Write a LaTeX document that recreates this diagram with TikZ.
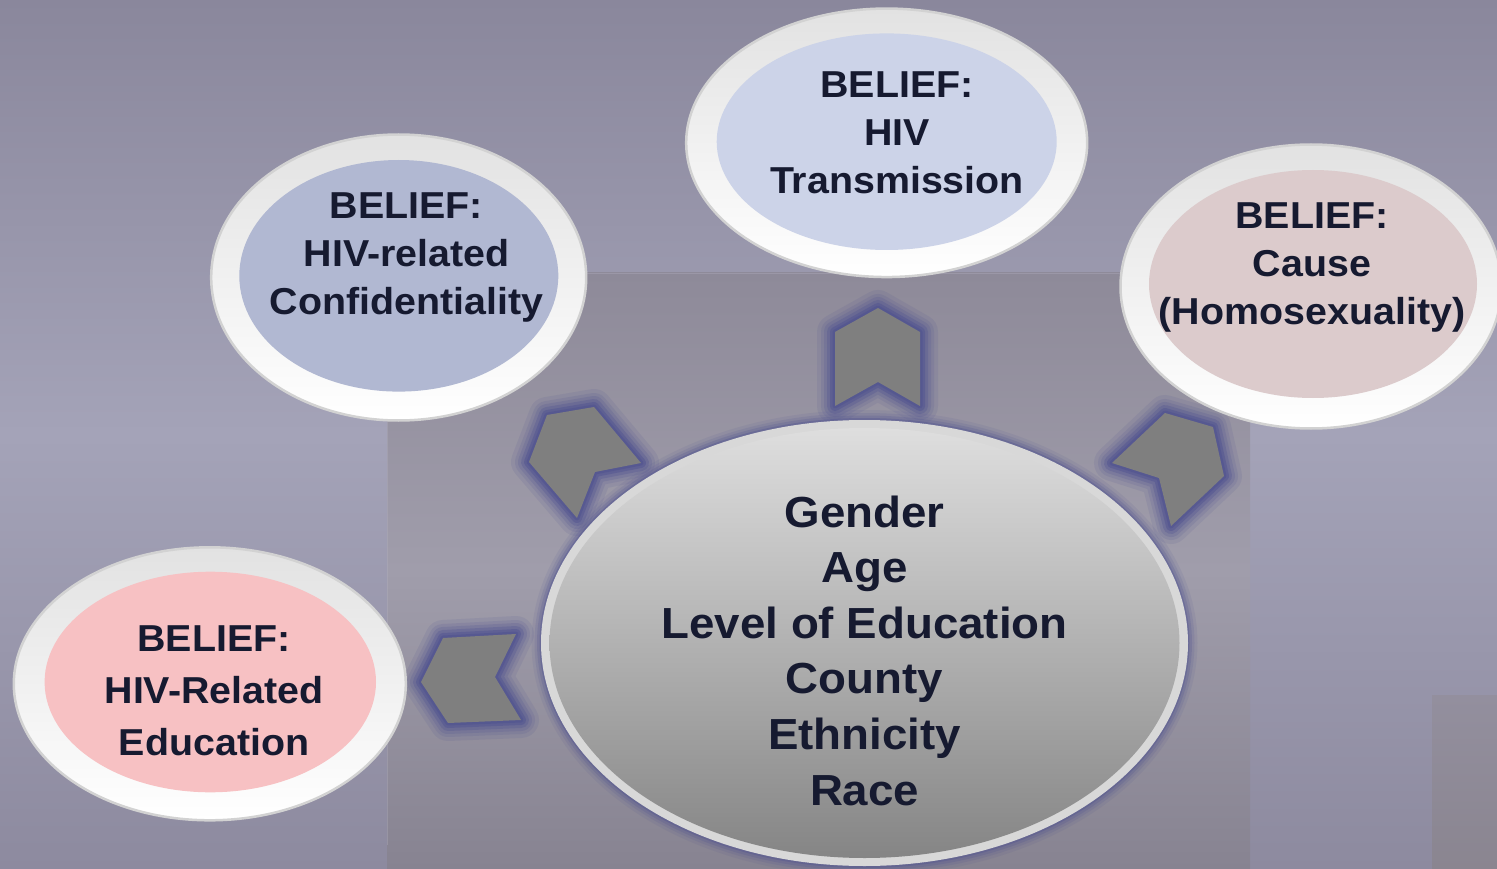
\documentclass[tikz,border=0pt]{standalone}
\usepackage{fontspec}
\setmainfont{Liberation Sans}
\newfontfamily\cfont{Liberation Sans Bold}[FakeStretch=1.05]
\usetikzlibrary{shapes.geometric}
\definecolor{txt}{HTML}{161A30}
\definecolor{bgtop}{HTML}{8A879C}
\definecolor{bgmid}{HTML}{A4A3B8}
\definecolor{bgbot}{HTML}{8D8A9F}
\definecolor{intop}{HTML}{8E8A99}
\definecolor{inmid}{HTML}{A09DAB}
\definecolor{inbot}{HTML}{878391}
\definecolor{smtop}{HTML}{938F9E}
\definecolor{smbot}{HTML}{8A8590}
\definecolor{edgec}{HTML}{B4B2C2}
\definecolor{glowc}{HTML}{4F5290}
\definecolor{chevc}{HTML}{7F7F7F}
\definecolor{rimedge}{HTML}{D2D2D2}
\definecolor{rimtop}{HTML}{E2E2E2}
\definecolor{crim}{HTML}{D8D8D8}
\definecolor{ctop}{HTML}{DEDEDE}
\definecolor{cbot}{HTML}{858585}
\definecolor{ctrans}{HTML}{CCD3E8}
\definecolor{cconf}{HTML}{B1B8D2}
\definecolor{ccause}{HTML}{DCCBCC}
\definecolor{cedu}{HTML}{F7C1C3}
\newcommand\myglow[1]{%
  \foreach \w/\o in {36/0.12,28/0.15,22/0.2,16/0.3,10/0.45,5/0.5}{%
    \draw[glowc, line width=\w pt, opacity=\o, line join=round] #1;}%
}
\newcommand\mysoftglow[1]{%
  \foreach \w/\o in {22/0.10,16/0.15,11/0.22,6/0.35}{%
    \draw[glowc, line width=\w pt, opacity=\o] #1;}%
}
\tikzset{
  rim/.style={ellipse, inner sep=0pt, draw=rimedge, line width=2.5pt, top color=rimtop, bottom color=white},
  core/.style={ellipse, inner sep=0pt, draw=none},
  btext/.style={align=center, text=txt, inner sep=0pt, font=\cfont\fontsize{37.5}{48}\selectfont},
  chevfill/.style={fill=chevc, draw=none},
}
\begin{document}
\begin{tikzpicture}[x=1pt,y=-1pt]
\useasboundingbox (0,0) rectangle (1497,869);
% background
\shade[top color=bgtop, bottom color=bgbot, middle color=bgmid] (0,0) rectangle (1497,869);
\shade[top color=intop, bottom color=inbot, middle color=inmid] (387,273) rectangle (1250,869);
\shade[top color=smtop, bottom color=smbot] (1432,695) rectangle (1497,869);
\draw[edgec, line width=0.8pt, opacity=0.35] (387,845) -- (387,273) -- (1250,273);

% glows
\mysoftglow{(864.5,643) ellipse [x radius=322, y radius=222]}
\myglow{(878,308) -- (920,332) -- (920,406) -- (878,382) -- (835,406) -- (835,332) -- cycle}
\myglow{(529,462) -- (547,415) -- (594,407) -- (641,463) -- (595,472) -- (577,518) -- cycle}
\myglow{(1112,463) -- (1165,413) -- (1213,427) -- (1224,476) -- (1171,526) -- (1159,478) -- cycle}
\myglow{(421,682) -- (443,638) -- (516,634) -- (495,677) -- (521,720) -- (448,723) -- cycle}

% chevrons
\fill[chevfill] (878,308) -- (920,332) -- (920,406) -- (878,382) -- (835,406) -- (835,332) -- cycle;
\fill[chevfill] (529,462) -- (547,415) -- (594,407) -- (641,463) -- (595,472) -- (577,518) -- cycle;
\fill[chevfill] (1112,463) -- (1165,413) -- (1213,427) -- (1224,476) -- (1171,526) -- (1159,478) -- cycle;
\fill[chevfill] (421,682) -- (443,638) -- (516,634) -- (495,677) -- (521,720) -- (448,723) -- cycle;

% central ellipse
\node[ellipse, inner sep=0pt, fill=crim, minimum width=647pt, minimum height=446pt] (cen) at (864.5,643) {};
\node[ellipse, inner sep=0pt, top color=ctop, bottom color=cbot, minimum width=630pt, minimum height=430pt] (cenin) at (864.5,643) {};
\node[align=center, text=txt, inner sep=0pt, font=\cfont\fontsize{43.5}{55.6}\selectfont] (centxt) at (864.6,650.5)
  {Gender\\Age\\Level of Education\\County\\Ethnicity\\Race};

% belief ellipses
\node[rim, minimum width=401pt, minimum height=268.5pt] (trans) at (886.7,142.8) {};
\node[core, fill=ctrans, minimum width=340pt, minimum height=216.6pt] (transin) at (886.7,141.7) {};
\node[btext] (transtxt) at (897,132.3) {BELIEF:\\HIV\\Transmission};

\node[rim, minimum width=375pt, minimum height=286pt] (conf) at (398.7,277.5) {};
\node[core, fill=cconf, minimum width=319pt, minimum height=231.6pt] (confin) at (398.8,275.8) {};
\node[btext] (conftxt) at (406.5,257) {BELIEF:\\HIV-related\\Confidentiality};

\node[rim, minimum width=381pt, minimum height=284pt] (cause) at (1311,286.5) {};
\node[core, fill=ccause, minimum width=328pt, minimum height=228pt] (causein) at (1313,284) {};
\node[btext] (causetxt) at (1312,267) {BELIEF:\\Cause\\(Homosexuality)};

\node[rim, minimum width=392pt, minimum height=273pt] (edu) at (209.8,683.8) {};
\node[core, fill=cedu, minimum width=331.4pt, minimum height=220.6pt] (eduin) at (210.3,682) {};
\node[btext, font=\cfont\fontsize{37.5}{52}\selectfont] (edutxt) at (214,690.5) {BELIEF:\\HIV-Related\\Education};
\end{tikzpicture}
\end{document}
